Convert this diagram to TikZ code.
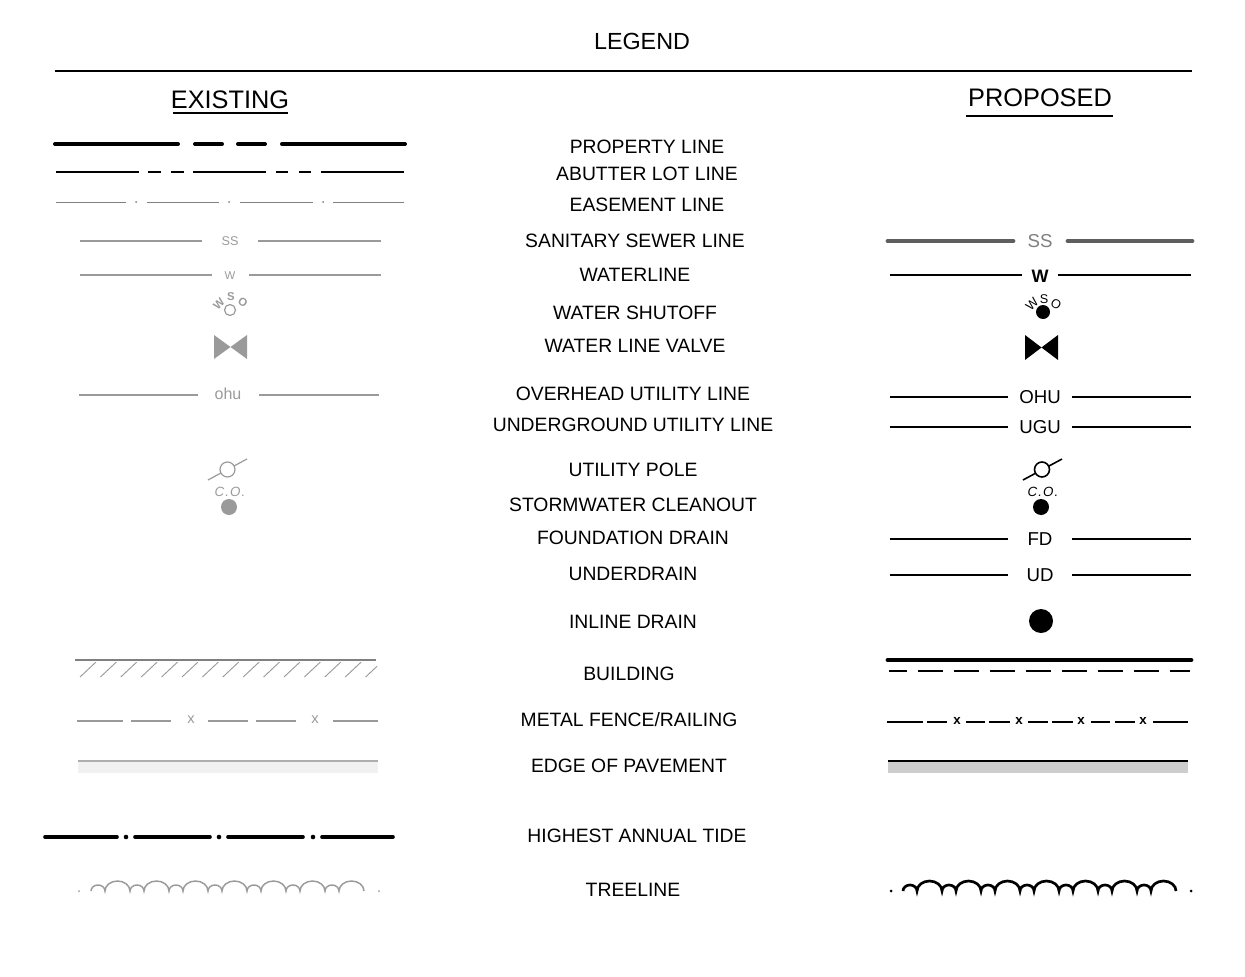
\documentclass[tikz,border=0pt]{standalone}
\usepackage{fontspec}
\setmainfont{Liberation Sans}
\definecolor{exgray}{HTML}{9A9A9A}
\definecolor{ssgray}{HTML}{5E5E5E}
\definecolor{pavegray}{HTML}{CDCDCD}
\definecolor{palegray}{HTML}{F1F1F1}

\begin{document}
\begin{tikzpicture}[x=0.75pt,y=-0.75pt,
    lbl/.style={font=\fontsize{14.5}{16}\selectfont,inner sep=0pt},
    head/.style={font=\fontsize{19}{22}\selectfont,inner sep=0pt},
    tag/.style={font=\fontsize{14}{16}\selectfont,inner sep=0pt,fill=white},
    small/.style={font=\fontsize{9.5}{11}\selectfont,inner sep=0pt,text=exgray},
    shut/.style={font=\fontsize{8.5}{9}\selectfont\bfseries,inner sep=0pt},
    ex/.style={draw=exgray,line width=0.8pt},
    pr/.style={draw=black,line width=1.5pt},
    tree/.style={insert path={\foreach \i in {1,...,7} {
        arc[start angle=180,end angle=360,x radius=7,y radius=6]
        arc[start angle=180,end angle=360,x radius=12.5,y radius=10]}}}]
            \useasboundingbox (0,0) rectangle (1245,977);

            % title and columns
            \node[inner sep=0pt,font=\fontsize{17.5}{20}\selectfont] (legend) at (642,41) {LEGEND};
            \draw[line width=2.2pt] (55,71) -- (1192,71);
            \node[head] (exist) at (230,100) {EXISTING};
            \node[head] (prop) at (1040,98) {PROPOSED};
            \draw[line width=2pt] (173,113) -- (288,113);
            \draw[line width=2pt] (966,116) -- (1113,116);

            % names
            \node[lbl] (propline) at (647,147) {PROPERTY LINE};
            \node[lbl] (abutter) at (647,174) {ABUTTER LOT LINE};
            \node[lbl] (easement) at (647,205) {EASEMENT LINE};
            \node[lbl] (sewer) at (635,241) {SANITARY SEWER LINE};
            \node[lbl] (water) at (635,275) {WATERLINE};
            \node[lbl] (shutoff) at (635,313) {WATER SHUTOFF};
            \node[lbl] (valve) at (635,346) {WATER LINE VALVE};
            \node[lbl] (overhead) at (633,394) {OVERHEAD UTILITY LINE};
            \node[lbl] (underground) at (633,425) {UNDERGROUND UTILITY LINE};
            \node[lbl] (pole) at (633,470) {UTILITY POLE};
            \node[lbl] (cleanout) at (633,505) {STORMWATER CLEANOUT};
            \node[lbl] (fdrain) at (633,538) {FOUNDATION DRAIN};
            \node[lbl] (udrain) at (633,574) {UNDERDRAIN};
            \node[lbl] (inline) at (633,622) {INLINE DRAIN};
            \node[lbl] (building) at (629,674) {BUILDING};
            \node[lbl] (fence) at (629,720) {METAL FENCE/RAILING};
            \node[lbl] (pavement) at (629,766) {EDGE OF PAVEMENT};
            \node[lbl] (tide) at (637,836) {HIGHEST ANNUAL TIDE};
            \node[lbl] (treeline) at (633,890) {TREELINE};

            % existing: lot lines
            \draw[line width=3pt,line cap=round] (55,144) -- (178,144) (195,144) -- (222,144)
                (238,144) -- (265,144) (282,144) -- (405,144);
            \draw[line width=1.5pt] (56,172) -- (139,172) (148,172) -- (161,172) (171,172) -- (184,172)
                (193,172) -- (266,172) (276,172) -- (288,172) (299,172) -- (311,172) (321,172) -- (404,172);
            \draw[draw=gray,line width=0.7pt] (56,202) -- (126,202) (147,202) -- (219,202)
                (240,202) -- (313,202) (333,202) -- (404,202);
            \foreach \x in {136,229,323}
                \fill[gray] (\x,202) circle (1);

            % existing: water and sewer
            \draw[ex] (80,241) -- (202,241) (258,241) -- (381,241);
            \node[small] (ssa) at (230,241) {SS};
            \draw[ex] (80,275) -- (212,275) (249,275) -- (381,275);
            \node[small,font=\fontsize{8.5}{9}\selectfont] (wa) at (230,276) {W};
            \draw[exgray,line width=0.9pt] (230,310) circle (5.5);
            \node[shut,text=exgray,rotate=45] (wsoa1) at (219,304) {W};
            \node[shut,text=exgray] (wsoa2) at (231,297) {S};
            \node[shut,text=exgray,rotate=-30] (wsoa3) at (243,302) {O};
            \fill[exgray] (214,335) -- (247,359) -- (247,335) -- (214,359) -- cycle;

            % existing: utilities
            \draw[ex] (79,395) -- (198,395) (259,395) -- (379,395);
            \node[small,font=\fontsize{12}{13}\selectfont] (ohua) at (228,394) {ohu};
            \draw[exgray,line width=0.9pt] (208,480) -- (247,459);
            \filldraw[draw=exgray,fill=white,line width=0.9pt] (227.5,469.5) circle (7.5);
            \node[small,font=\fontsize{10}{11}\itshape\addfontfeature{LetterSpace=8}] (coa) at (230,492) {C.O.};
            \fill[exgray] (229,507) circle (8);

            % existing: building, fence, pavement
            \draw[draw=gray,line width=2.2pt] (75,660) -- (376,660);
            \begin{scope}
                \clip (70,662) rectangle (377,680);
                \foreach \x in {80,100.4,...,370}
                    \draw[exgray,line width=0.7pt] (\x,677) -- ++(16,-15);
            \end{scope}
            \foreach \a/\b in {77/123,131/171,208/248,256/296,333/378}
                \draw[ex] (\a,721) -- (\b,721);
            \foreach \x [count=\i] in {191,315}
                \node[small,font=\fontsize{11}{12}\selectfont] (xa\i) at (\x,720) {x};
            \fill[palegray] (78,761) rectangle (378,773);
            \draw[draw=exgray!80,line width=0.8pt] (78,761) -- (378,761);

            % existing: tide and trees
            \draw[line width=2.7pt,line cap=round] (45,837) -- (117,837) (135,837) -- (210,837)
                (228,837) -- (303,837) (322,837) -- (393,837);
            \foreach \x in {126,219,313}
                \fill (\x,837) circle (2.3);
            \draw[exgray,line width=1.1pt] (91,891) [tree];
            \fill[exgray] (79,891) circle (1) (379,891) circle (1);

            % proposed: water and sewer
            \draw[ssgray,line width=3.6pt,line cap=round] (888,241) -- (1013,241) (1068,241) -- (1192,241);
            \node[tag,text=gray] (ssb) at (1040,241) {SS};
            \draw[pr] (890,275) -- (1022,275) (1058,275) -- (1191,275);
            \node[tag,font=\fontsize{13.5}{15}\selectfont\bfseries] (wb) at (1040,276) {W};
            \fill (1043,312) circle (7);
            \node[shut,font=\fontsize{9.5}{10}\selectfont,rotate=45] (wsob1) at (1032,304) {W};
            \node[shut,font=\fontsize{9.5}{10}\selectfont] (wsob2) at (1044,299) {S};
            \node[shut,font=\fontsize{9.5}{10}\selectfont,rotate=-30] (wsob3) at (1056,304) {O};
            \fill (1025,335) -- (1058,360) -- (1058,335) -- (1025,360) -- cycle;

            % proposed: utilities
            \foreach \y/\t/\n in {397/OHU/ohub,427/UGU/ugub,539/FD/fdb,575/UD/udb} {
                \draw[pr] (890,\y) -- (1008,\y) (1072,\y) -- (1191,\y);
                \node[tag] (\n) at (1040,\y) {\t};
            }
            \draw[line width=1.2pt] (1023,480) -- (1062,459);
            \filldraw[fill=white,line width=1.2pt] (1042,469.5) circle (7.5);
            \node[small,text=black,font=\fontsize{10}{11}\itshape\addfontfeature{LetterSpace=8}] (cob) at (1043,492) {C.O.};
            \fill (1041,507) circle (8);
            \fill (1041,621) circle (12);

            % proposed: building, fence, pavement
            \draw[line width=3.6pt,line cap=round] (888,660) -- (1191,660);
            \draw[line width=0.8pt,dash pattern=on 18.75pt off 8.25pt,dash phase=5.25pt] (889,671) -- (1190,671);
            \foreach \a/\b in {887/923,927/947,966/985,989/1010,1028/1048,1052/1073,1091/1110,1115/1135,1153/1188}
                \draw[pr] (\a,722) -- (\b,722);
            \foreach \x [count=\i] in {957,1019,1081,1143}
                \node[inner sep=0pt,font=\fontsize{10}{11}\selectfont\bfseries] (xb\i) at (\x,721) {x};
            \fill[pavegray] (888,761) rectangle (1188,773);
            \draw[pr] (888,761) -- (1188,761);

            % proposed: trees
            \draw[line width=2pt] (903,891) [tree];
            \fill (891,891) circle (1.5) (1191,891) circle (1.5);
        \end{tikzpicture}
\end{document}
